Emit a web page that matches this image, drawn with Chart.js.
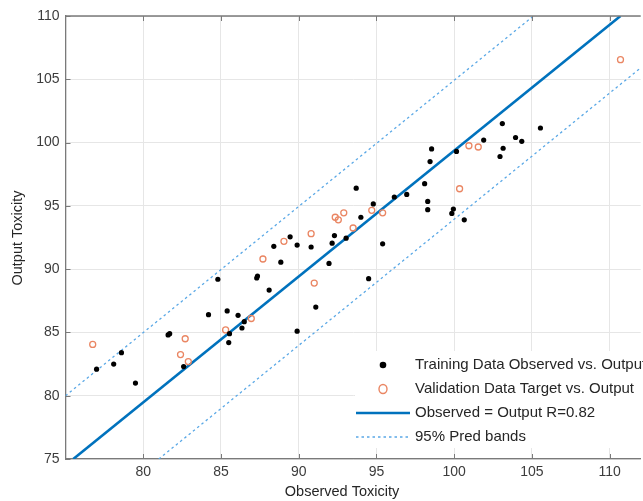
<!DOCTYPE html>
<html><head><meta charset="utf-8">
<script src="https://cdn.jsdelivr.net/npm/chart.js@4.4.0/dist/chart.umd.min.js"></script>
<style>
html,body{margin:0;padding:0;background:#fff;overflow:hidden;width:643px;height:501px}
#wrap{position:absolute;left:0;top:0;width:646px;height:501px}
</style>
</head><body><div id="wrap"><canvas id="c"></canvas></div>
<script>
// ---- data ----
const trainObserved = [77.0, 78.1, 78.6, 79.5, 81.6, 81.7, 82.6, 84.2, 84.8, 85.4, 85.55, 85.5, 86.1, 86.35, 86.5, 87.3, 87.35, 88.1, 88.4, 88.85, 89.45, 89.9, 89.9, 90.8, 91.1, 91.95, 92.15, 92.3, 93.05, 93.7, 94.0, 94.5, 94.8, 95.4, 96.15, 96.95, 98.1, 98.3, 98.3, 98.45, 98.55, 99.85, 99.95, 100.15, 100.65, 101.9, 102.95, 103.1, 103.15, 103.95, 104.35, 105.55];
const trainOutput   = [82.1, 82.5, 83.4, 81.0, 84.8, 84.9, 82.3, 86.4, 89.2, 86.7, 84.9, 84.2, 86.35, 85.35, 85.85, 89.3, 89.45, 88.35, 91.8, 90.55, 92.55, 91.9, 85.1, 91.75, 87.0, 90.45, 92.05, 92.65, 92.45, 96.4, 94.1, 89.25, 95.15, 92.0, 95.7, 95.9, 96.75, 95.35, 94.7, 98.5, 99.5, 94.4, 94.75, 99.3, 93.9, 100.2, 98.9, 101.5, 99.55, 100.4, 100.1, 101.15];
const valTarget = [76.75, 82.4, 82.7, 82.9, 85.3, 86.95, 87.7, 89.05, 90.8, 91.0, 92.35, 92.55, 92.9, 93.5, 94.7, 95.4, 100.35, 100.95, 101.55, 110.7];
const valOutput = [84.05, 83.25, 84.5, 82.7, 85.2, 86.1, 90.8, 92.2, 92.8, 88.9, 94.1, 93.9, 94.45, 93.25, 94.65, 94.45, 96.35, 99.75, 99.65, 106.55];
const fitX = [75.5, 110.7];
const fitY = [75, 110];
const upperBandX = [75, 105.1];
const upperBandY = [80, 110];
const lowerBandX = [81.0, 112.5];
const lowerBandY = [75, 106.4];
const xTicks = [80, 85, 90, 95, 100, 105, 110];
const yTicks = [75, 80, 85, 90, 95, 100, 105, 110];
const seriesLabels = ['Training Data Observed vs. Output', 'Validation Data Target vs. Output', 'Observed = Output R=0.82', '95% Pred bands'];
const xTitle = 'Observed Toxicity';
const yTitle = 'Output Toxicity';

const FONT = 'Liberation Sans, Arial, Helvetica, sans-serif';
const pts = (xs, ys) => xs.map((x, i) => ({x: x, y: ys[i]}));
const BLUE = '#0072BD', BAND = '#5AA8E6', ORANGE = '#EA8663', AXIS = '#7a7a7a';

const decor = {
  id: 'decor',
  afterDatasetsDraw(chart) {
    const ctx = chart.ctx, a = chart.chartArea;
    const xs = chart.scales.x, ys = chart.scales.y;
    ctx.save();
    // top border
    ctx.strokeStyle = AXIS; ctx.lineWidth = 1.3;
    ctx.beginPath(); ctx.moveTo(a.left, a.top); ctx.lineTo(a.right, a.top); ctx.stroke();
    // inward ticks
    ctx.lineWidth = 1;
    xTicks.forEach(v => {
      const px = Math.round(xs.getPixelForValue(v)) + 0.5;
      ctx.beginPath(); ctx.moveTo(px, a.bottom); ctx.lineTo(px, a.bottom - 5);
      ctx.moveTo(px, a.top); ctx.lineTo(px, a.top + 5); ctx.stroke();
    });
    yTicks.forEach(v => {
      const py = Math.round(ys.getPixelForValue(v)) + 0.5;
      ctx.beginPath(); ctx.moveTo(a.left, py); ctx.lineTo(a.left + 5, py); ctx.stroke();
    });
    // legend
    const lx = 355, ly = 351;
    ctx.fillStyle = '#fff';
    ctx.fillRect(lx, ly, 300, 97);
    const rows = [365, 389, 413, 437];
    const mx = 383, tx = 415;
    ctx.fillStyle = '#000';
    ctx.beginPath(); ctx.arc(mx, rows[0], 3.3, 0, Math.PI * 2); ctx.fill();
    ctx.strokeStyle = ORANGE; ctx.lineWidth = 1.4;
    ctx.beginPath(); ctx.ellipse(mx, rows[1], 4, 4.5, 0, 0, Math.PI * 2); ctx.stroke();
    ctx.strokeStyle = BLUE; ctx.lineWidth = 2.6;
    ctx.beginPath(); ctx.moveTo(356, rows[2]); ctx.lineTo(410, rows[2]); ctx.stroke();
    ctx.strokeStyle = BAND; ctx.lineWidth = 1.4; ctx.setLineDash([2.5, 3]);
    ctx.beginPath(); ctx.moveTo(356, rows[3]); ctx.lineTo(410, rows[3]); ctx.stroke();
    ctx.setLineDash([]);
    ctx.fillStyle = '#262626';
    ctx.font = '15px ' + FONT;
    ctx.textBaseline = 'middle'; ctx.textAlign = 'left';
    seriesLabels.forEach((t, i) => ctx.fillText(t, tx, rows[i]));
    // axis titles
    ctx.font = '14.5px ' + FONT;
    ctx.textAlign = 'center';
    ctx.fillText(xTitle, 342, 492);
    ctx.save();
    ctx.translate(18, 238); ctx.rotate(-Math.PI / 2);
    ctx.fillText(yTitle, 0, 0);
    ctx.restore();
    ctx.restore();
  }
};

new Chart(document.getElementById('c'), {
  type: 'scatter',
  data: {
    datasets: [
      {label: seriesLabels[0], data: pts(trainObserved, trainOutput), pointRadius: 2.6, pointBackgroundColor: '#000', pointBorderColor: '#000', pointBorderWidth: 0},
      {label: seriesLabels[1], data: pts(valTarget, valOutput), pointRadius: 3, pointBackgroundColor: 'rgba(0,0,0,0)', pointBorderColor: ORANGE, pointBorderWidth: 1.3},
      {label: seriesLabels[2], data: pts(fitX, fitY), showLine: true, borderColor: BLUE, borderWidth: 2.6, pointRadius: 0},
      {label: seriesLabels[3], data: pts(upperBandX, upperBandY), showLine: true, borderColor: BAND, borderWidth: 1.3, borderDash: [2.5, 3], pointRadius: 0},
      {label: seriesLabels[3], data: pts(lowerBandX, lowerBandY), showLine: true, borderColor: BAND, borderWidth: 1.3, borderDash: [2.5, 3], pointRadius: 0}
    ]
  },
  options: {
    responsive: true, maintainAspectRatio: false, animation: false,
    layout: {padding: {top: 16, left: 0, right: 0, bottom: 0}},
    plugins: {legend: {display: false}, tooltip: {enabled: false}},
    scales: {
      x: {
        type: 'linear', min: 75, max: 112,
        afterBuildTicks: s => { s.ticks = xTicks.map(v => ({value: v})); },
        afterFit: s => { s.height = 42; },
        grid: {color: '#e6e6e6', lineWidth: 1, drawTicks: false},
        border: {color: AXIS, width: 1.3},
        ticks: {padding: 5, color: '#3c3c3c', font: {family: FONT, size: 14}, maxRotation: 0}
      },
      y: {
        type: 'linear', min: 75, max: 110,
        afterBuildTicks: s => { s.ticks = yTicks.map(v => ({value: v})); },
        afterFit: s => { s.width = 65.5; },
        grid: {color: '#e6e6e6', lineWidth: 1, drawTicks: false},
        border: {color: AXIS, width: 1.3},
        ticks: {padding: 6, color: '#3c3c3c', font: {family: FONT, size: 14}}
      }
    }
  },
  plugins: [decor]
});
</script>
</body></html>
